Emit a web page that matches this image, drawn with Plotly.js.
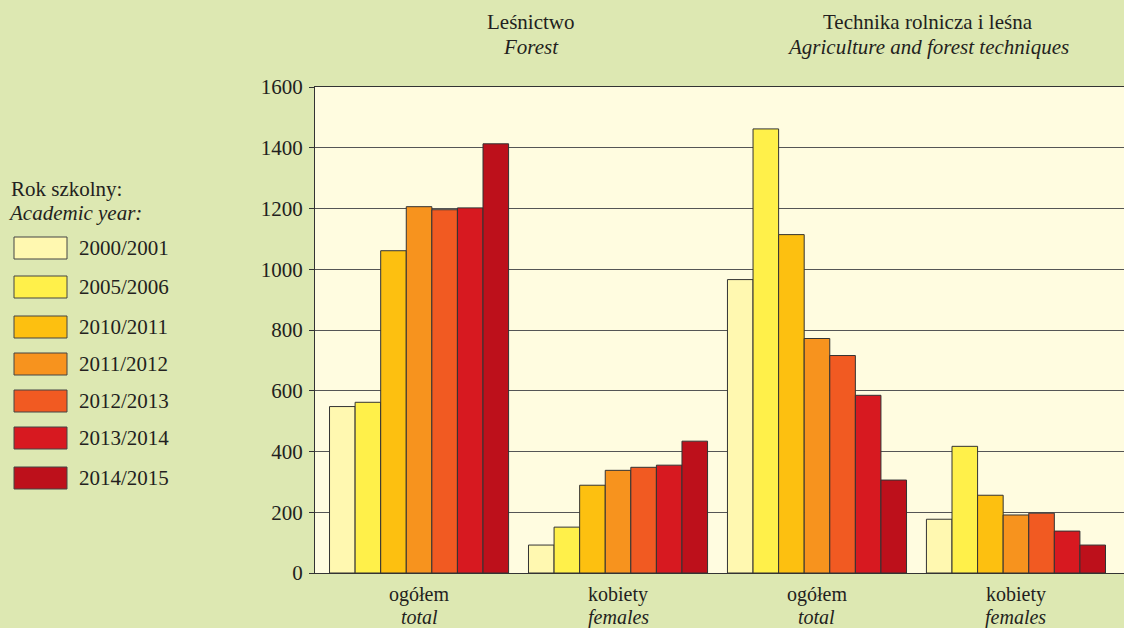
<!DOCTYPE html>
<html>
<head>
<meta charset="utf-8">
<script src="https://cdn.plot.ly/plotly-3.0.1.min.js"></script>
<style>html,body{margin:0;padding:0;background:#dde8b2;}#chart{width:1124px;height:628px;}</style>
</head>
<body>
<div id="chart"></div>
<script>
// ---- data ----
const catMain = ["ogółem", "kobiety", "ogółem", "kobiety"];
const catSub = ["total", "females", "total", "females"];
const catPos = [0, 1, 2, 3];
const years = ["2000/2001", "2005/2006", "2010/2011", "2011/2012", "2012/2013", "2013/2014", "2014/2015"];
// values per year: [Forest total, Forest females, Tech total, Tech females]
const v2000 = [548, 92, 966, 177];
const v2005 = [562, 151, 1462, 417];
const v2010 = [1061, 289, 1114, 256];
const v2011 = [1206, 338, 772, 191];
const v2012 = [1196, 348, 716, 197];
const v2013 = [1202, 355, 585, 138];
const v2014 = [1413, 434, 306, 92];
const seriesValues = [v2000, v2005, v2010, v2011, v2012, v2013, v2014];
const colors = ["#fff8b0", "#fff04a", "#fdc010", "#f7931e", "#f15a22", "#d71920", "#bd101b"];
const groupMain = ["Leśnictwo", "Technika rolnicza i leśna"];
const groupSub = ["Forest", "Agriculture and forest techniques"];
const yTicks = [0, 200, 400, 600, 800, 1000, 1200, 1400, 1600];
const legendMain = "Rok szkolny:";
const legendSub = "Academic year:";

// ---- layout helpers ----
const W = 1124, H = 628, L = 315, R = 0, T = 87, B = 55;
const pw = W - L - R, ph = H - T - B;
const px = x => (x - L) / pw;
const py = y => (H - B - y) / ph;
const FONT = "Liberation Serif";
const TXT = "#231f20";
const FS = 21;

const traces = years.map((yr, i) => ({
  type: "bar",
  name: yr,
  x: catPos,
  y: seriesValues[i],
  marker: {color: colors[i], line: {color: "#333333", width: 1}},
  showlegend: false,
  hoverinfo: "y+name"
}));

const shapes = [];
const annotations = [];
function txt(o, size) {
  annotations.push(Object.assign({showarrow: false, borderpad: 0, font: {family: FONT, size: size || FS, color: TXT}}, o));
}
const rowY = [248, 287, 327, 364, 401, 438, 478];
years.forEach((yr, i) => {
  shapes.push({type: "rect", xref: "paper", yref: "paper",
    x0: px(14), x1: px(67), y0: py(rowY[i] + 11), y1: py(rowY[i] - 11),
    fillcolor: colors[i], line: {color: "#444444", width: 1}});
  txt({xref: "paper", yref: "paper", x: px(78), y: py(rowY[i]), xanchor: "left", yanchor: "middle", text: yr});
});
txt({xref: "paper", yref: "paper", x: px(10), y: py(189), xanchor: "left", yanchor: "middle", text: legendMain});
txt({xref: "paper", yref: "paper", x: px(7), y: py(213), xanchor: "left", yanchor: "middle", text: "<i>" + legendSub + "</i>"});
groupMain.forEach((t, i) => {
  txt({xref: "x", yref: "paper", x: 0.5 + 2 * i, xshift: 12, y: py(22), xanchor: "center", yanchor: "middle", text: t});
  txt({xref: "x", yref: "paper", x: 0.5 + 2 * i, xshift: 12, y: py(47), xanchor: "center", yanchor: "middle", text: "<i>" + groupSub[i] + "</i>"});
});
catPos.forEach((c, i) => {
  txt({xref: "x", yref: "paper", x: c, y: py(594), xanchor: "center", yanchor: "middle", text: catMain[i]}, 20);
  txt({xref: "x", yref: "paper", x: c, y: py(617), xanchor: "center", yanchor: "middle", text: "<i>" + catSub[i] + "</i>"}, 20);
});

const layout = {
  width: W, height: H,
  margin: {l: L, r: R, t: T, b: B, pad: 0},
  paper_bgcolor: "#dde8b2",
  plot_bgcolor: "#fffce0",
  barmode: "group",
  bargap: 0.1,
  bargroupgap: 0,
  font: {family: FONT, size: FS, color: TXT},
  xaxis: {
    type: "linear",
    range: [-0.523, 3.543],
    showline: true, linecolor: "#333333", linewidth: 1, mirror: true,
    ticks: "", showgrid: false, zeroline: false,
    showticklabels: false
  },
  yaxis: {
    range: [0, 1600],
    tickvals: yTicks,
    ticktext: yTicks.map(String),
    showgrid: true, gridcolor: "#555555", gridwidth: 1,
    showline: true, linecolor: "#333333", linewidth: 1, mirror: true,
    ticks: "outside", ticklen: 5, tickcolor: "#333333",
    zeroline: false,
    ticklabelstandoff: 2,
    tickfont: {family: FONT, size: FS, color: TXT}
  },
  shapes: shapes,
  annotations: annotations
};

Plotly.newPlot("chart", traces, layout, {displayModeBar: false, staticPlot: true});
</script>
</body>
</html>
